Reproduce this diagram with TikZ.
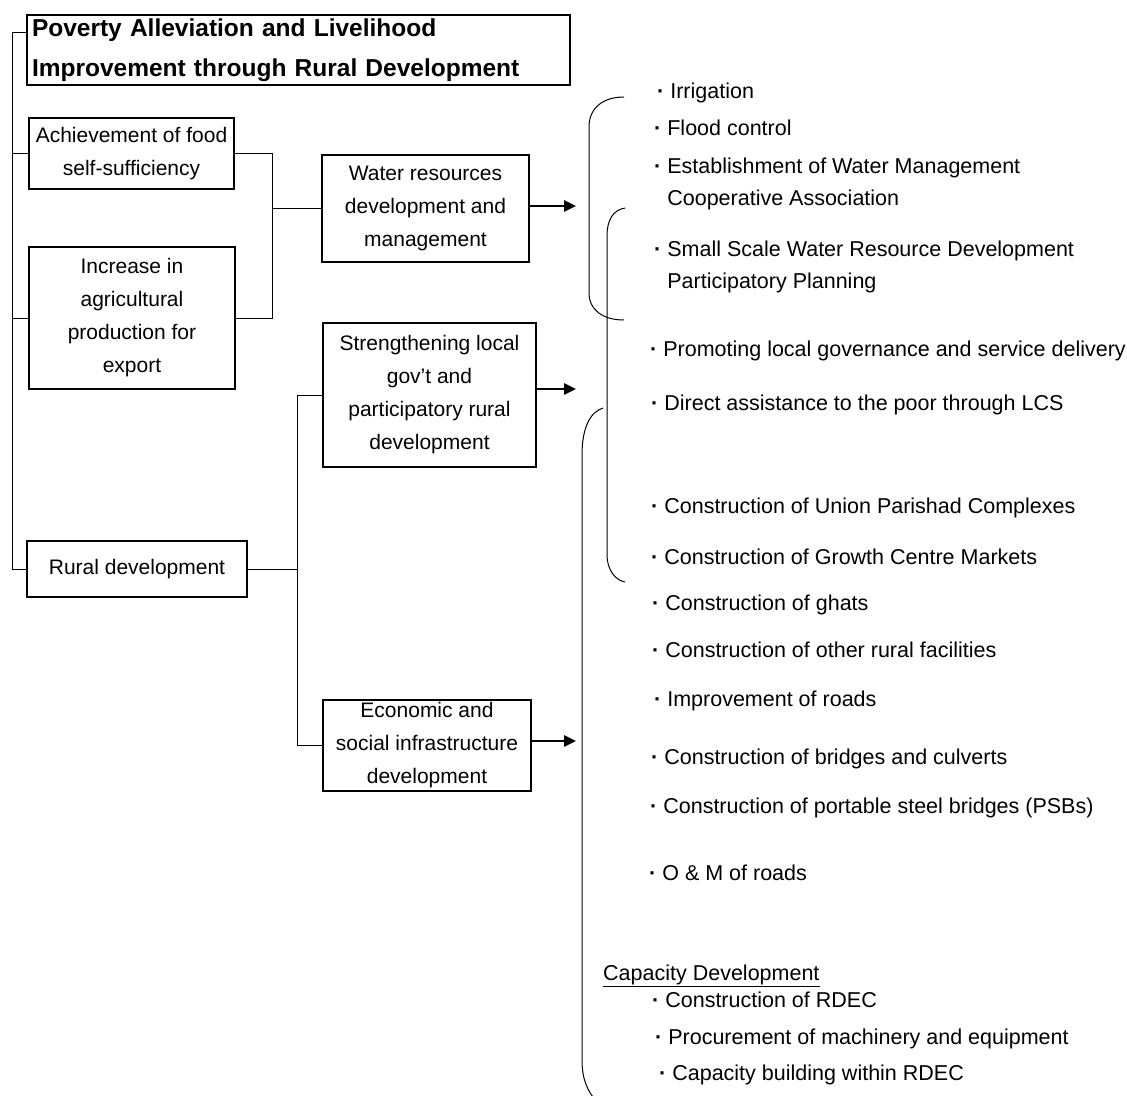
\documentclass[tikz,border=0pt]{standalone}
\usepackage{fontspec}
\setmainfont{Liberation Sans}
\usetikzlibrary{arrows.meta,positioning}
\tikzset{
	block/.style={
		rectangle,
		draw=black,
		line width=1.3pt,
		inner sep=0pt,
		align=center,
		font=\fontsize{21}{33}\selectfont
	},
	heading/.style={
		rectangle,
		draw=black,
		line width=1.6pt,
		inner xsep=5pt,
		inner ysep=0pt,
		align=left,
		font=\fontsize{24.5}{40}\selectfont\bfseries
	},
	link/.style={
		draw=black,
		line width=1pt
	},
	arrow/.style={
		draw=black,
		line width=2.6pt,
		-{Triangle[length=12pt,width=11pt]}
	},
	item/.style={
		anchor=base west,
		inner sep=0pt,
		align=left,
		font=\fontsize{21.5}{32}\selectfont
	},
	paren/.style={
		draw=black,
		line width=1pt
	}
}
\newcommand{\dotitem}{{\bfseries\textperiodcentered}\ }

\begin{document}
\begin{tikzpicture}[x=1pt,y=-1pt]
		\clip (0,0) rectangle (1127,1095);

		% left column
		\node (title) [heading,text width=533pt,minimum height=70pt] at (298.5,50)
			{Poverty Alleviation and Livelihood\\Improvement through Rural Development};
		\node (achieve) [block,minimum width=205pt,minimum height=71pt] at (131.5,153.5)
			{Achievement of food\\self-sufficiency};
		\node (increase) [block,minimum width=206pt,minimum height=142pt] at (132,318)
			{Increase in\\agricultural\\production for\\export};
		\node (rural) [block,minimum width=220pt,minimum height=56pt] at (137,569)
			{Rural development};

		% middle column
		\node (water) [block,minimum width=207pt,minimum height=107pt] at (425.5,208.5)
			{Water resources\\development and\\management};
		\node (strength) [block,minimum width=213pt,minimum height=144pt] at (429.5,395)
			{Strengthening local\\gov't and\\participatory rural\\development};
		\node (econ) [block,minimum width=208pt,minimum height=91pt] at (427,745.5)
			{Economic and\\social infrastructure\\development};

		\coordinate (spine) at (12.5,32);
		\coordinate (join1) at (272,0);
		\coordinate (join2) at (297,0);
		\coordinate (tipW) at (576,206);
		\coordinate (tipS) at (576,389);
		\coordinate (tipE) at (576,741);

		\draw [link] (title.west |- spine) -- (spine) |- (rural.west);
		\draw [link] (spine |- achieve.west) -- (achieve.west);
		\draw [link] (spine |- increase.west) -- (increase.west);
		\draw [link] (achieve.east) -| (join1 |- increase.east) -- (increase.east);
		\draw [link] (join1 |- water.west) -- (water.west);
		\draw [link] (strength.west) -| (join2 |- econ.west) -- (econ.west);
		\draw [link] (rural.east) -- (join2 |- rural.east);

		\draw [arrow] (water.east |- tipW) -- (tipW);
		\draw [arrow] (strength.east |- tipS) -- (tipS);
		\draw [arrow] (econ.east |- tipE) -- (tipE);

		% brackets
		\draw [paren] (624,97) .. controls (603,97) and (589,108) .. (589,127)
			-- (589,293) .. controls (589,310) and (603,320) .. (624,320);
		\draw [paren] (625,208) .. controls (613,210) and (607,220) .. (607,236)
			-- (607,555) .. controls (607,568) and (614,580) .. (625,582);
		\draw [paren] (603,408) .. controls (590,412) and (582,428) .. (582,455)
			-- (582,1060) .. controls (582,1080) and (588,1092) .. (597,1102);

		% activities
		\node (irrig) [item] at (657,98) {\dotitem Irrigation};
		\node (flood) [item] at (654,135) {\dotitem Flood control};
		\node (wmca) [item] at (654,205) {\dotitem Establishment of Water Management\\\phantom{\dotitem}Cooperative Association};
		\node (sswr) [item] at (654,288) {\dotitem Small Scale Water Resource Development\\\phantom{\dotitem}Participatory Planning};
		\node (govern) [item] at (650,356) {\dotitem Promoting local governance and service delivery};
		\node (direct) [item] at (651,410) {\dotitem Direct assistance to the poor through LCS};
		\node (union) [item] at (651,513) {\dotitem Construction of Union Parishad Complexes};
		\node (growth) [item] at (651,564) {\dotitem Construction of Growth Centre Markets};
		\node (ghats) [item] at (652,610) {\dotitem Construction of ghats};
		\node (other) [item] at (652,657) {\dotitem Construction of other rural facilities};
		\node (roads) [item] at (654,706) {\dotitem Improvement of roads};
		\node (bridge) [item] at (651,764) {\dotitem Construction of bridges and culverts};
		\node (psb) [item] at (650,813) {\dotitem Construction of portable steel bridges (PSBs)};
		\node (om) [item] at (649,880) {\dotitem O \& M of roads};
		\node (capdev) [item] at (603,980) {Capacity Development};
		\draw [link] ([yshift=-6pt]capdev.base west) -- ([yshift=-6pt]capdev.base east);
		\node (rdec) [item] at (652,1007) {\dotitem Construction of RDEC};
		\node (procure) [item] at (655,1044) {\dotitem Procurement of machinery and equipment};
		\node (build) [item] at (659,1080) {\dotitem Capacity building within RDEC};

		\end{tikzpicture}
\end{document}
